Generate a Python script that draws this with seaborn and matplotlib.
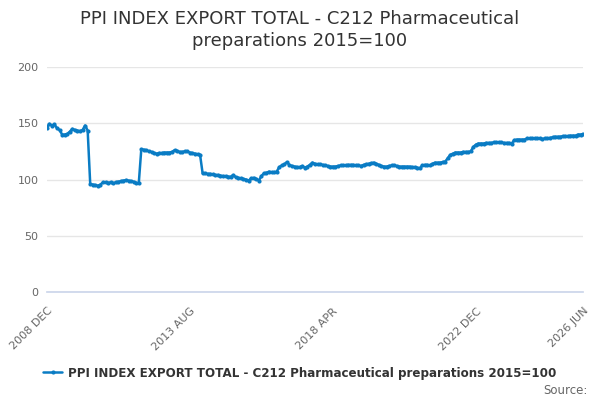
import matplotlib
matplotlib.use("Agg")
import matplotlib.pyplot as plt
import seaborn as sns
import numpy as np
import pandas as pd

# monthly index, 2008 DEC .. 2026 JUN
start_month = "2008-12"
values = [
    146, 149.5, 148, 149, 145.5, 144, 140, 140, 140.5, 142.5, 145, 144,
    143.5, 143, 144, 148, 143.5, 96, 95.5, 95, 94.5, 95.5, 97.5, 97.5,
    97, 97.5, 96.5, 97.5, 98, 98.5, 99, 99.5, 99, 98.5, 98, 97,
    96.5, 127, 126.5, 126, 125, 124.5, 123.5, 123, 123.5, 123.5, 124, 124,
    124, 124.5, 126, 125.5, 124.5, 124.5, 125, 125, 124, 123.5, 123, 122.5,
    122, 105.5, 105.5, 105, 105, 104.5, 104, 104, 103.5, 103, 103, 102.5,
    102.5, 104, 102, 101.5, 101, 100.5, 100, 99, 101, 101.5, 100.5, 99,
    103, 105.5, 106, 107, 106.5, 106.5, 107, 111, 112.5, 113.5, 115.5, 113,
    112, 111.5, 111, 111, 112, 110.5, 111.5, 113, 115, 114, 113.5, 113.5,
    113, 112.5, 112, 111.5, 111.5, 111.5, 112, 112.5, 112.5, 112.5, 113, 113,
    113, 112.5, 112.5, 112, 113, 113.5, 114, 114.5, 115, 114, 113, 112,
    111.5, 111.5, 112, 112.5, 112.5, 112, 111.5, 111.5, 111.5, 111.5, 111.5, 111,
    111, 110.5, 110, 112.5, 113, 113, 112.5, 114, 115, 115, 115, 115.5,
    116, 119, 122, 123, 124, 124, 124, 124.5, 124.5, 124.5, 125, 129,
    131, 132, 132, 132, 132.5, 132.5, 132.5, 133, 133, 133, 133, 132.5,
    132.5, 132.5, 132, 135, 135.5, 135.5, 135.5, 135.5, 136.5, 136.5, 136.5, 136.5,
    136.5, 136.5, 136, 136.5, 136.5, 137, 137.5, 138, 138, 138, 138.5, 138.5,
    138.5, 139, 139, 139, 140, 140, 140.5,
]
series_name = "PPI INDEX EXPORT TOTAL - C212 Pharmaceutical preparations 2015=100"

months = pd.period_range(start_month, periods=len(values), freq="M")
labels = [f"{p.year} {p.strftime('%b').upper()}" for p in months]
df = pd.DataFrame({"idx": np.arange(len(values)), "value": values})

sns.set_theme(style="white")
plt.rcParams["font.family"] = ["DejaVu Sans"]

fig = plt.figure(figsize=(6, 4), dpi=100)
ax = fig.add_axes([0.078, 0.27, 0.894, 0.5625])

blue = "#0a7cc4"
sns.lineplot(data=df, x="idx", y="value", ax=ax, color=blue, linewidth=1.8,
             marker="o", markersize=3, markeredgewidth=0, label=series_name)

ax.set_xlim(0, len(values) - 1)
ax.set_ylim(0, 200)
ax.set_yticks([0, 50, 100, 150, 200])
ax.yaxis.grid(True, color="#e6e6e6", linewidth=1)
ax.set_axisbelow(True)

tick_pos = np.arange(0, len(values), 14)
ax.set_xticks(tick_pos)
ax.set_xticklabels([labels[i] if (i % 56 == 0 or i == len(values) - 1) else ""
                    for i in tick_pos], rotation=45, ha="right",
                   rotation_mode="anchor", fontsize=8, color="#666666")
ax.tick_params(axis="x", length=8, color="#ccd6eb", width=1, pad=2, direction="out")
ax.tick_params(axis="y", length=0, labelsize=8, labelcolor="#666666", pad=6)

for s in ["left", "right", "top"]:
    ax.spines[s].set_visible(False)
ax.spines["bottom"].set_color("#ccd6eb")
ax.set_xlabel("")
ax.set_ylabel("")

fig.suptitle("PPI INDEX EXPORT TOTAL - C212 Pharmaceutical\npreparations 2015=100",
             y=0.975, fontsize=13, color="#333333", linespacing=1.25)

ax.legend(loc="center", bbox_to_anchor=(0.5, 0.0675), bbox_transform=fig.transFigure,
          frameon=False, prop={"size": 8.6, "weight": "bold"}, labelcolor="#333333",
          handlelength=1.6, handletextpad=0.5)
fig.text(0.98, 0.025, "Source:", ha="right", va="center", fontsize=8.5, color="#666666")

fig.savefig("out.png", dpi=100)
